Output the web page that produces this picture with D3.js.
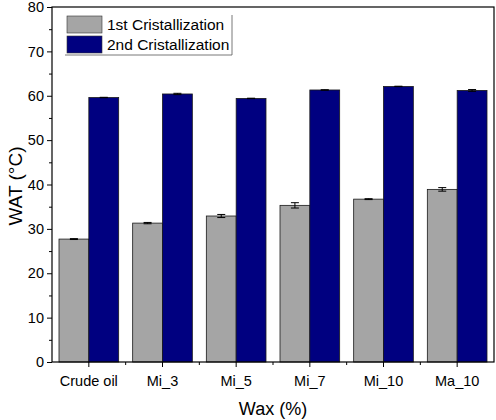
<!DOCTYPE html>
<html>
<head>
<meta charset="utf-8">
<script src="https://cdn.jsdelivr.net/npm/d3@7"></script>
<style>
body { margin: 0; background: #fff; }
text { font-family: "Liberation Sans", Arial, sans-serif; }
</style>
</head>
<body>
<div id="chart"></div>
<script>
var categories = ["Crude oil", "Mi_3", "Mi_5", "Mi_7", "Mi_10", "Ma_10"];
var series_names = ["1st Cristallization", "2nd Cristallization"];
var first_values = [27.7, 31.3, 32.9, 35.3, 36.7, 38.9];
var first_errors = [0.1, 0.15, 0.35, 0.6, 0.1, 0.4];
var second_values = [59.6, 60.4, 59.4, 61.3, 62.1, 61.2];
var second_errors = [0.05, 0.15, 0.05, 0.05, 0.05, 0.2];
var y_ticks = [0, 10, 20, 30, 40, 50, 60, 70, 80];

var svg_width = 496,
    svg_height = 420,
    margin = {top: 7, right: 2, bottom: 58, left: 52},
    colors = ["#a5a5a5", "#000080"];

var width = svg_width - margin.left - margin.right,
    height = svg_height - margin.top - margin.bottom;

var svg = d3.select("#chart").append("svg")
    .attr("width", svg_width)
    .attr("height", svg_height);

var g = svg.append("g")
    .attr("transform", "translate(" + margin.left + "," + margin.top + ")");

var x0 = d3.scaleBand().domain(categories).range([0, width]).padding(0);
var x1 = d3.scaleBand().domain([0, 1])
    .range([x0.bandwidth() * 0.095, x0.bandwidth() * 0.905]).padding(0);
var y = d3.scaleLinear().domain([0, 80]).range([height, 0]);

var data = categories.map(function (c, i) {
    return [
        {cat: c, s: 0, v: first_values[i], e: first_errors[i]},
        {cat: c, s: 1, v: second_values[i], e: second_errors[i]}
    ];
});

var groups = g.selectAll(".grp").data(data).enter().append("g")
    .attr("class", "grp")
    .attr("transform", function (d, i) { return "translate(" + x0(categories[i]) + ",0)"; });

groups.selectAll("rect").data(function (d) { return d; }).enter().append("rect")
    .attr("x", function (d) { return x1(d.s); })
    .attr("width", x1.bandwidth())
    .attr("y", function (d) { return y(d.v); })
    .attr("height", function (d) { return height - y(d.v); })
    .attr("fill", function (d) { return colors[d.s]; })
    .attr("stroke", "#1a1a1a")
    .attr("stroke-width", 0.8);

// error bars
var err = groups.selectAll(".err").data(function (d) { return d; }).enter().append("g")
    .attr("class", "err")
    .attr("stroke", "#000")
    .attr("stroke-width", 1);
err.append("line")
    .attr("x1", function (d) { return x1(d.s) + x1.bandwidth() / 2; })
    .attr("x2", function (d) { return x1(d.s) + x1.bandwidth() / 2; })
    .attr("y1", function (d) { return y(d.v + d.e); })
    .attr("y2", function (d) { return y(d.v - d.e); });
err.selectAll(".cap").data(function (d) { return [d.v + d.e, d.v - d.e].map(function (v) { return {s: d.s, v: v}; }); })
    .enter().append("line")
    .attr("x1", function (d) { return x1(d.s) + x1.bandwidth() / 2 - 4; })
    .attr("x2", function (d) { return x1(d.s) + x1.bandwidth() / 2 + 4; })
    .attr("y1", function (d) { return y(d.v); })
    .attr("y2", function (d) { return y(d.v); });

// frame
g.append("rect")
    .attr("width", width).attr("height", height)
    .attr("fill", "none").attr("stroke", "#000").attr("stroke-width", 1.2);

// y axis
var yAxis = g.append("g")
    .call(d3.axisLeft(y).tickValues(y_ticks).tickSize(5).tickPadding(3));
yAxis.select(".domain").remove();
yAxis.selectAll("text").attr("font-size", "14.5px").attr("fill", "#000")
    .style("font-family", "Liberation Sans, Arial, sans-serif");
var yMinor = g.append("g")
    .call(d3.axisLeft(y).tickValues(d3.range(5, 80, 10)).tickSize(3).tickFormat(""));
yMinor.select(".domain").remove();

// x axis
var xAxis = g.append("g")
    .attr("transform", "translate(0," + height + ")")
    .call(d3.axisBottom(x0).tickSize(5).tickPadding(9));
xAxis.select(".domain").remove();
xAxis.selectAll("text").attr("font-size", "14.5px").attr("fill", "#000")
    .style("font-family", "Liberation Sans, Arial, sans-serif");
var xMinor = g.append("g")
    .attr("transform", "translate(0," + height + ")");
xMinor.selectAll("line").data(categories.slice(1)).enter().append("line")
    .attr("x1", function (d) { return x0(d); })
    .attr("x2", function (d) { return x0(d); })
    .attr("y1", 0).attr("y2", 3)
    .attr("stroke", "#000");

// axis titles
svg.append("text")
    .attr("x", margin.left + width / 2)
    .attr("y", 415)
    .attr("text-anchor", "middle")
    .attr("font-size", "18px")
    .text("Wax (%)");
svg.append("text")
    .attr("transform", "translate(22,186) rotate(-90)")
    .attr("text-anchor", "middle")
    .attr("font-size", "19px")
    .text("WAT (°C)");

// legend
var legend = svg.append("g").attr("transform", "translate(67,16)");
legend.selectAll("rect").data(series_names).enter().append("rect")
    .attr("x", 0)
    .attr("y", function (d, i) { return i * 20; })
    .attr("width", 35).attr("height", 17)
    .attr("fill", function (d, i) { return colors[i]; })
    .attr("stroke", "#333").attr("stroke-width", 0.6);
legend.selectAll("text").data(series_names).enter().append("text")
    .attr("x", 40)
    .attr("y", function (d, i) { return i * 20 + 14; })
    .attr("font-size", "15.5px")
    .text(function (d) { return d; });
legend.append("path")
    .attr("d", "M-2,39H165V-1")
    .attr("fill", "none").attr("stroke", "#555").attr("stroke-width", 0.8);
</script>
</body>
</html>
